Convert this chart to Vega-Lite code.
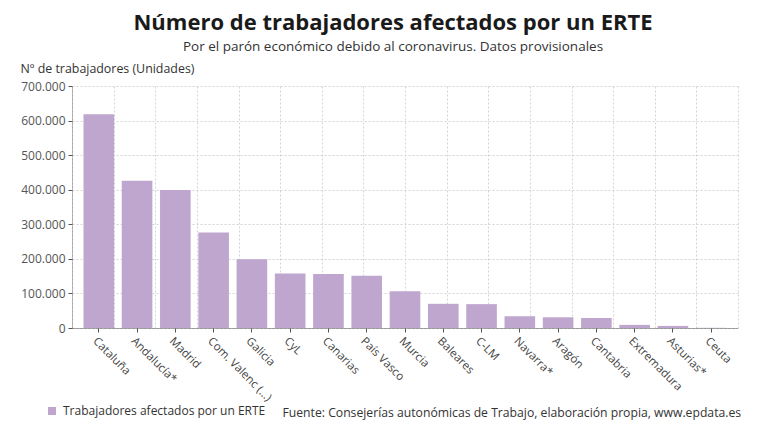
{
  "$schema": "https://vega.github.io/schema/vega-lite/v6.json",
  "width": 666,
  "height": 242,
  "autosize": "none",
  "padding": {"left": 72, "top": 86, "right": 42, "bottom": 112},
  "background": "white",
  "config": {
    "font": "Open Sans",
    "locale": {"number": {"decimal": ",", "thousands": ".", "grouping": [3], "currency": ["", " €"]}},
    "view": {"stroke": null}
  },
  "title": {
    "text": "Número de trabajadores afectados por un ERTE",
    "subtitle": "Por el parón económico debido al coronavirus. Datos provisionales",
    "font": "Open Sans",
    "fontSize": 22,
    "fontWeight": "bold",
    "color": "#1a1a1a",
    "subtitleFont": "Open Sans",
    "subtitleFontSize": 13.5,
    "subtitleColor": "#333333",
    "subtitlePadding": 5,
    "anchor": "middle",
    "dx": -12,
    "offset": 8
  },
  "data": {
    "values": [
      {"region": "Cataluña", "trabajadores": 618000},
      {"region": "Andalucía*", "trabajadores": 426000},
      {"region": "Madrid", "trabajadores": 399000},
      {"region": "Com. Valenc (...)", "trabajadores": 276000},
      {"region": "Galicia", "trabajadores": 199000},
      {"region": "CyL", "trabajadores": 158000},
      {"region": "Canarias", "trabajadores": 156000},
      {"region": "País Vasco", "trabajadores": 151000},
      {"region": "Murcia", "trabajadores": 106000},
      {"region": "Baleares", "trabajadores": 70000},
      {"region": "C-LM", "trabajadores": 69000},
      {"region": "Navarra*", "trabajadores": 34000},
      {"region": "Aragón", "trabajadores": 31000},
      {"region": "Cantabria", "trabajadores": 29000},
      {"region": "Extremadura", "trabajadores": 9000},
      {"region": "Asturias*", "trabajadores": 6000},
      {"region": "Ceuta", "trabajadores": 500}
    ]
  },
  "layer": [
    {
      "mark": {"type": "rule", "strokeOpacity": 0},
      "encoding": {
        "x": {
          "datum": 0,
          "type": "quantitative",
          "scale": {"domain": [0, 16], "nice": false, "zero": false},
          "axis": {
            "orient": "top",
            "values": [0, 1, 2, 3, 4, 5, 6, 7, 8, 9, 10, 11, 12, 13, 14, 15, 16],
            "grid": true,
            "gridColor": "#d4d4d4",
            "gridDash": [2, 2],
            "labels": false,
            "ticks": false,
            "domain": false,
            "title": null
          }
        }
      }
    },
    {
      "mark": {"type": "bar", "color": "#bfa6cf"},
      "encoding": {
        "x": {
          "field": "region",
          "type": "nominal",
          "sort": null,
          "scale": {"paddingInner": 0.2, "paddingOuter": 0.3},
          "axis": {
            "labelAngle": 45,
            "labelAlign": "left",
            "labelBaseline": "top",
            "labelFontSize": 11.5,
            "labelColor": "#444444",
            "labelPadding": 3,
            "ticks": true,
            "tickSize": 4,
            "tickColor": "#555555",
            "domainColor": "#555555",
            "domainDash": [1, 1],
            "grid": false,
            "title": "Fuente: Consejerías autonómicas de Trabajo, elaboración propia, www.epdata.es",
            "titleX": 210,
            "titleY": 84,
            "titleAlign": "left",
            "titleBaseline": "middle",
            "titleFontWeight": "normal",
            "titleFontSize": 12.2,
            "titleColor": "#333333"
          }
        },
        "y": {
          "field": "trabajadores",
          "type": "quantitative",
          "scale": {"domain": [0, 700000], "nice": false},
          "axis": {
            "values": [0, 100000, 200000, 300000, 400000, 500000, 600000, 700000],
            "format": ",d",
            "grid": true,
            "gridColor": "#d4d4d4",
            "gridDash": [2, 2],
            "labelFontSize": 12,
            "labelColor": "#555555",
            "labelPadding": 3,
            "tickSize": 4,
            "tickColor": "#555555",
            "domainColor": "#777777",
            "domainDash": [1, 1],
            "title": "Nº de trabajadores (Unidades)",
            "titleAngle": 0,
            "titleX": -52,
            "titleY": -18,
            "titleAlign": "left",
            "titleBaseline": "middle",
            "titleFontWeight": "normal",
            "titleFontSize": 12.4,
            "titleColor": "#333333"
          }
        },
        "color": {
          "datum": "Trabajadores afectados por un ERTE",
          "type": "nominal",
          "scale": {"range": ["#bfa6cf"]},
          "legend": {
            "orient": "none",
            "legendX": -26,
            "legendY": 319,
            "title": null,
            "symbolType": "square",
            "symbolSize": 64,
            "symbolStrokeWidth": 0,
            "labelFontSize": 12,
            "labelColor": "#333333",
            "labelOffset": 5,
            "labelLimit": 0
          }
        }
      }
    }
  ],
  "resolve": {"scale": {"x": "independent"}, "axis": {"x": "independent"}}
}
